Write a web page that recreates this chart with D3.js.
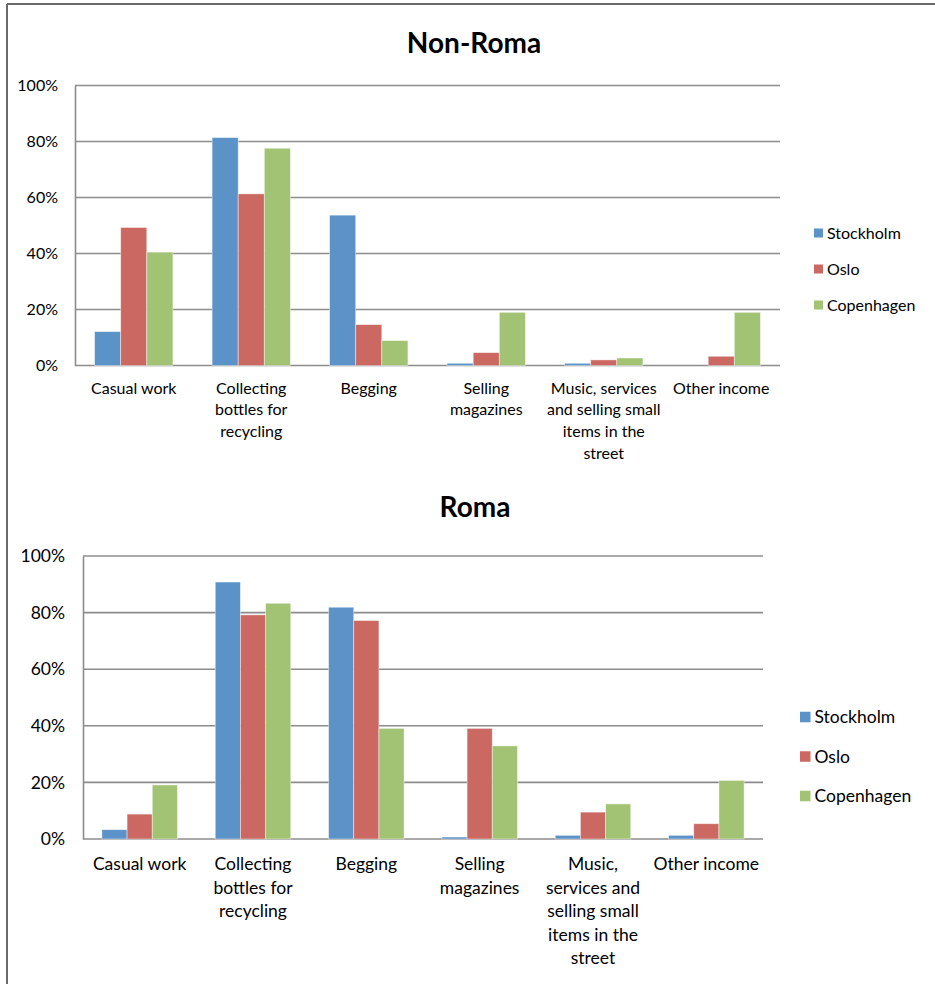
<!DOCTYPE html>
<html>
<head>
<meta charset="utf-8">
<script src="https://cdn.jsdelivr.net/npm/d3@7"></script>
<style>
  html, body { margin: 0; padding: 0; background: #fff; }
  svg { display: block; font-family: Lato, "Open Sans", sans-serif; }
</style>
</head>
<body>
<svg id="chart" width="935" height="984"></svg>
<script>
// ---------- data ----------
const categories = ["Casual work", "Collecting bottles for recycling", "Begging", "Selling magazines", "Music, services and selling small items in the street", "Other income"];
const series = ["Stockholm", "Oslo", "Copenhagen"];
const colors = ["#5b93c9", "#cc6862", "#a2c374"];

const nonRomaLabelLines = [["Casual work"], ["Collecting", "bottles for", "recycling"], ["Begging"], ["Selling", "magazines"], ["Music, services", "and selling small", "items in the", "street"], ["Other income"]];
const romaLabelLines = [["Casual work"], ["Collecting", "bottles for", "recycling"], ["Begging"], ["Selling", "magazines"], ["Music,", "services and", "selling small", "items in the", "street"], ["Other income"]];

// values in percent, per series across categories
const nonRomaStockholm  = [12.1, 81.4, 53.7, 0.8, 0.8, 0];
const nonRomaOslo       = [49.3, 61.3, 14.6, 4.6, 2.0, 3.3];
const nonRomaCopenhagen = [40.5, 77.6, 8.9, 19.0, 2.7, 19.0];

const romaStockholm  = [3.3, 90.8, 81.9, 0.7, 1.3, 1.3];
const romaOslo       = [8.8, 79.2, 77.2, 39.1, 9.5, 5.4];
const romaCopenhagen = [19.1, 83.3, 39.1, 32.9, 12.4, 20.7];

const yTicks = [0, 20, 40, 60, 80, 100];

// ---------- drawing ----------
const svg = d3.select("#chart");

// outer frame
svg.append("line").attr("x1", 7).attr("x2", 935).attr("y1", 4).attr("y2", 4)
  .attr("stroke", "#6a6a6a").attr("stroke-width", 2);
svg.append("line").attr("x1", 7).attr("x2", 7).attr("y1", 4).attr("y2", 984)
  .attr("stroke", "#6a6a6a").attr("stroke-width", 2);

function drawChart(cfg) {
  const g = svg.append("g");
  const x0 = d3.scaleBand().domain(categories).range([cfg.left, cfg.right]).paddingInner(0).paddingOuter(0);
  const x1 = d3.scaleBand().domain(series).range([0, x0.bandwidth()]).paddingInner(0).paddingOuter(0.75);
  const y = d3.scaleLinear().domain([0, 100]).range([cfg.bottom, cfg.top]);

  // title
  g.append("text").attr("x", cfg.titleX).attr("y", cfg.titleY)
    .attr("text-anchor", "middle").attr("font-weight", "bold")
    .attr("font-size", cfg.titleSize).attr("fill", "#000").text(cfg.title);

  // gridlines
  g.append("g").selectAll("line").data(yTicks).join("line")
    .attr("x1", cfg.left).attr("x2", cfg.right)
    .attr("y1", d => y(d)).attr("y2", d => y(d))
    .attr("stroke", "#8c8c8c").attr("stroke-width", 1.6);

  // y axis
  const yAxis = g.append("g").attr("transform", `translate(${cfg.left},0)`)
    .call(d3.axisLeft(y).tickValues(yTicks).tickFormat(d => d + "%").tickSize(0).tickPadding(cfg.yPad));
  yAxis.select(".domain").attr("stroke", "#8c8c8c").attr("stroke-width", 1.6);
  yAxis.selectAll(".tick text").attr("font-size", cfg.fontSize).attr("font-family", "Lato, sans-serif").attr("fill", "#000");

  // bars
  const valueSets = cfg.values;
  series.forEach((s, si) => {
    g.append("g").selectAll("rect").data(valueSets[si]).join("rect")
      .attr("x", (d, i) => x0(categories[i]) + x1(s))
      .attr("width", x1.bandwidth())
      .attr("y", d => y(d))
      .attr("height", d => y(0) - y(d))
      .attr("fill", colors[si])
      .attr("stroke", d => d > 0 ? "rgba(255,255,255,0.55)" : "none")
      .attr("stroke-width", 0.8);
  });

  // x axis labels
  const xAxis = g.append("g").attr("transform", `translate(0,${cfg.bottom})`)
    .call(d3.axisBottom(x0).tickSize(0).tickPadding(0));
  xAxis.select(".domain").remove();
  xAxis.selectAll(".tick text").each(function(d, i) {
    const t = d3.select(this);
    t.text(null).attr("y", 0).attr("dy", null)
      .attr("font-size", cfg.fontSize).attr("font-family", "Lato, sans-serif").attr("fill", "#000");
    cfg.labelLines[i].forEach((line, li) => {
      t.append("tspan").attr("x", 0).attr("y", cfg.labelY + li * cfg.lineH).text(line);
    });
  });

  // legend
  const lg = g.append("g");
  series.forEach((s, si) => {
    const cy = cfg.legendY + si * cfg.legendStep;
    lg.append("rect").attr("x", cfg.legendX).attr("y", cy - cfg.sq / 2)
      .attr("width", cfg.sq).attr("height", cfg.sq).attr("fill", colors[si]);
    lg.append("text").attr("x", cfg.legendX + cfg.sq + 4).attr("y", cy).attr("dy", "0.36em")
      .attr("font-size", cfg.fontSize).attr("fill", "#000").text(s);
  });
}

drawChart({
  title: "Non-Roma", titleX: 474, titleY: 53, titleSize: 28,
  left: 75, right: 780, top: 85.5, bottom: 365.5,
  values: [nonRomaStockholm, nonRomaOslo, nonRomaCopenhagen],
  labelLines: nonRomaLabelLines,
  fontSize: 16, yPad: 17, labelY: 28, lineH: 21.7,
  legendX: 814, legendY: 233, legendStep: 36, sq: 9
});

drawChart({
  title: "Roma", titleX: 475, titleY: 517, titleSize: 28,
  left: 83, right: 763, top: 556, bottom: 839,
  values: [romaStockholm, romaOslo, romaCopenhagen],
  labelLines: romaLabelLines,
  fontSize: 17.5, yPad: 18, labelY: 31, lineH: 23.5,
  legendX: 800, legendY: 717, legendStep: 39.5, sq: 10.5
});
</script>
</body>
</html>
